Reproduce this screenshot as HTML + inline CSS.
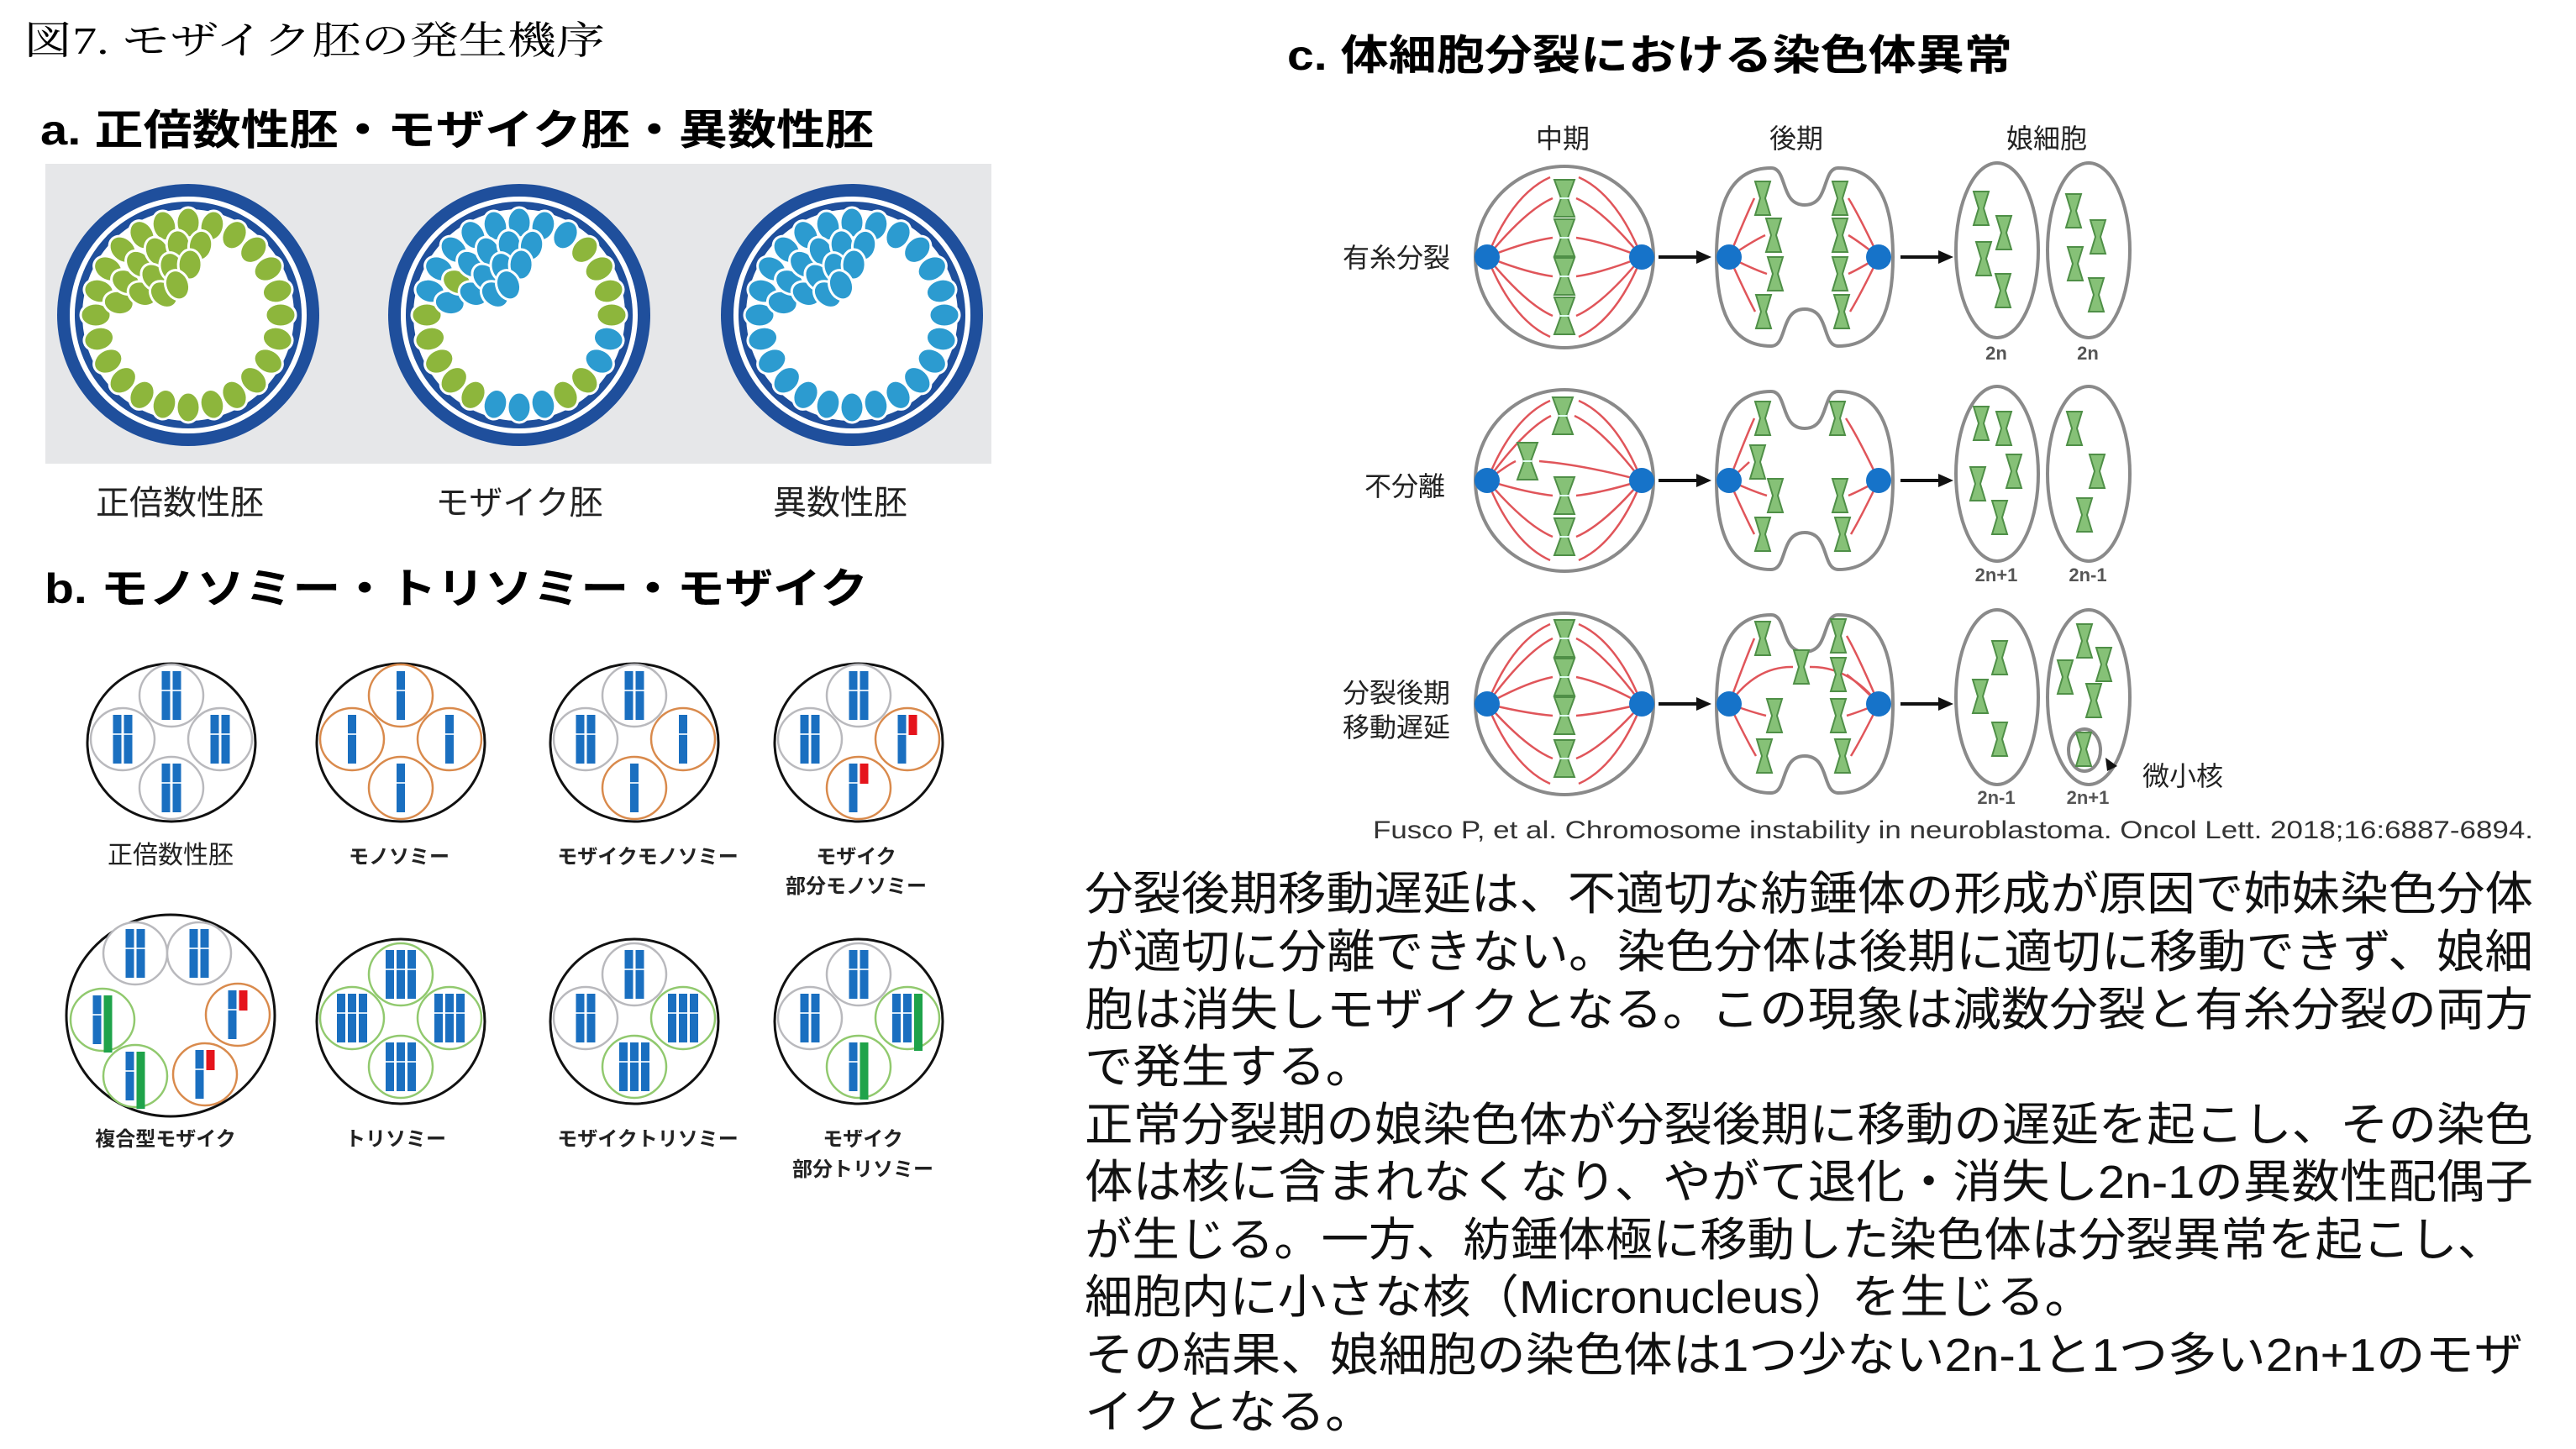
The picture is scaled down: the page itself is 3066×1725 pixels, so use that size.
<!DOCTYPE html>
<html><head><meta charset="utf-8"><style>
html,body{margin:0;padding:0;background:#fff;}
svg{display:block;}
.s{font-family:"Liberation Sans","Noto Sans CJK JP",sans-serif;}
.m{font-family:"Liberation Serif","Noto Serif CJK SC",serif;}
</style></head><body>
<svg id="S" xmlns="http://www.w3.org/2000/svg" width="3066" height="1725" viewBox="0 0 3066 1725">
<defs>
<g id="chr"><path d="M-12,-22 L12,-22 L4,0 L12,22 L-12,22 L-4,0 Z" fill="#86c177" stroke="#4f8f47" stroke-width="2"/><line x1="-5" y1="0" x2="5" y2="0" stroke="#dfe" stroke-width="2"/></g>
<g id="chs"><path d="M-9,-20 L9,-20 L3,0 L9,20 L-9,20 L-3,0 Z" fill="#86c177" stroke="#4f8f47" stroke-width="2"/></g>
<path id="ana" d="M-40,-106 C-20,-106 -30,-62 0,-62 C30,-62 20,-106 40,-106 C90,-106 105,-60 105,0 C105,60 90,106 40,106 C20,106 30,62 0,62 C-30,62 -20,106 -40,106 C-90,106 -105,60 -105,0 C-105,-60 -90,-106 -40,-106 Z" fill="#fff" stroke="#8a8a8a" stroke-width="4"/>
</defs>

<text class="m" x="28" y="64" font-size="46" textLength="692" lengthAdjust="spacingAndGlyphs">図7. モザイク胚の発生機序</text>
<text class="s" x="48" y="172" font-size="50" font-weight="bold" textLength="992" lengthAdjust="spacingAndGlyphs">a. 正倍数性胚・モザイク胚・異数性胚</text>
<text class="s" x="53" y="718" font-size="50" font-weight="bold" textLength="980" lengthAdjust="spacingAndGlyphs">b. モノソミー・トリソミー・モザイク</text>
<text class="s" x="1532" y="83" font-size="50" font-weight="bold" textLength="863" lengthAdjust="spacingAndGlyphs">c. 体細胞分裂における染色体異常</text>

<rect x="54" y="195" width="1126" height="357" fill="#e6e7e9"/>
<g id="emb"></g>
<g class="s" font-size="40" text-anchor="middle" fill="#222">
<text x="214" y="612">正倍数性胚</text><text x="618" y="612">モザイク胚</text><text x="1000" y="612">異数性胚</text>
</g>

<g id="bsec"></g>
<g class="s" text-anchor="middle" fill="#222">
<text x="203" y="1028" font-size="30">正倍数性胚</text>
<g font-size="24" font-weight="bold">
<text x="475" y="1028">モノソミー</text>
<text x="771" y="1028">モザイクモノソミー</text>
<text x="1019" y="1028">モザイク</text><text x="1019" y="1063">部分モノソミー</text>
<text x="197" y="1364">複合型モザイク</text>
<text x="471" y="1364">トリソミー</text>
<text x="771" y="1364">モザイクトリソミー</text>
<text x="1027" y="1364">モザイク</text><text x="1027" y="1400">部分トリソミー</text>
</g></g>

<g class="s" font-size="32" text-anchor="middle" fill="#222">
<text x="1860" y="176">中期</text><text x="2138" y="176">後期</text><text x="2436" y="176">娘細胞</text>
</g>
<g class="s" font-size="32" fill="#222">
<text x="1598" y="318">有糸分裂</text>
<text x="1624" y="590">不分離</text>
<text x="1598" y="836">分裂後期</text>
<text x="1598" y="877">移動遅延</text>
<text x="2550" y="935">微小核</text>
</g>
<g id="csec"></g>
<g class="s" font-size="22" font-weight="bold" text-anchor="middle" fill="#555">
<text x="2376" y="428">2n</text><text x="2485" y="428">2n</text>
<text x="2376" y="692">2n+1</text><text x="2485" y="692">2n-1</text>
<text x="2376" y="957">2n-1</text><text x="2485" y="957">2n+1</text>
</g>
<text class="s" x="1634" y="998" font-size="30" fill="#333" textLength="1381" lengthAdjust="spacingAndGlyphs">Fusco P, et al. Chromosome instability in neuroblastoma. Oncol Lett. 2018;16:6887-6894.</text>

<g class="s" font-size="55" fill="#111">
<text x="1291" y="1083" textLength="1724" lengthAdjust="spacingAndGlyphs">分裂後期移動遅延は、不適切な紡錘体の形成が原因で姉妹染色分体</text>
<text x="1291" y="1152" textLength="1724" lengthAdjust="spacingAndGlyphs">が適切に分離できない。染色分体は後期に適切に移動できず、娘細</text>
<text x="1291" y="1221" textLength="1724" lengthAdjust="spacingAndGlyphs">胞は消失しモザイクとなる。この現象は減数分裂と有糸分裂の両方</text>
<text x="1291" y="1289" textLength="344" lengthAdjust="spacingAndGlyphs">で発生する。</text>
<text x="1291" y="1358" textLength="1724" lengthAdjust="spacingAndGlyphs">正常分裂期の娘染色体が分裂後期に移動の遅延を起こし、その染色</text>
<text x="1291" y="1426" textLength="1724" lengthAdjust="spacingAndGlyphs">体は核に含まれなくなり、やがて退化・消失し2n-1の異数性配偶子</text>
<text x="1291" y="1495" textLength="1690" lengthAdjust="spacingAndGlyphs">が生じる。一方、紡錘体極に移動した染色体は分裂異常を起こし、</text>
<text x="1291" y="1563" textLength="1200" lengthAdjust="spacingAndGlyphs">細胞内に小さな核（Micronucleus）を生じる。</text>
<text x="1291" y="1632" textLength="1712" lengthAdjust="spacingAndGlyphs">その結果、娘細胞の染色体は1つ少ない2n-1と1つ多い2n+1のモザ</text>
<text x="1291" y="1700" textLength="344" lengthAdjust="spacingAndGlyphs">イクとなる。</text>
</g>
</svg>
<script>
var NS="http://www.w3.org/2000/svg";
function el(p,t,a){var e=document.createElementNS(NS,t);for(var k in a)e.setAttribute(k,a[k]);p.appendChild(e);return e;}
var G="#8db63c",B="#2c9bd0",D="#1f4f9c";
var emb=document.getElementById("emb");
[[224,0],[618,1],[1014,2]].forEach(function(q){
 var cx=q[0],cy=375,t=q[1];
 el(emb,"circle",{cx:cx,cy:cy,r:156,fill:D});
 el(emb,"circle",{cx:cx,cy:cy,r:141,fill:"#fff"});
 el(emb,"circle",{cx:cx,cy:cy,r:135,fill:D});
 el(emb,"circle",{cx:cx,cy:cy,r:126,fill:"#fff"});
 function col(i,ang,layer){
  if(t==0)return G; if(t==2)return B;
  var a=((ang%360)+360)%360;
  if(layer==1&&i==1)return G;
  if(layer>0)return B;
  if(a>=315&&a<=360)return G;
  if(a>=0&&a<15)return G;
  if(a>=15&&a<45)return B;
  if(a>=45&&a<75)return G;
  if(a>=75&&a<110)return B;
  if(a>=110&&a<195)return G;
  return B;
 }
 var n=24;
 for(var i=0;i<n;i++){
  var ang=i*360/n-90;var r=ang*Math.PI/180;
  var x=cx+110*Math.cos(r),y=cy+110*Math.sin(r);
  el(emb,"ellipse",{cx:x,cy:y,rx:14,ry:18,fill:col(i,ang,0),stroke:"#fff","stroke-width":3,transform:"rotate("+(ang-90)+" "+x+" "+y+")"});
 }
 var L=[[84,[190,208,226,244,262,280]],[60,[205,228,251,272]],[38,[220,250]]];
 L.forEach(function(l,li){l[1].forEach(function(ang,i){var r=ang*Math.PI/180;var x=cx+l[0]*Math.cos(r),y=cy+l[0]*Math.sin(r);
  el(emb,"ellipse",{cx:x,cy:y,rx:14,ry:18,fill:col(i,ang,li+1),stroke:"#fff","stroke-width":3,transform:"rotate("+(ang-90)+" "+x+" "+y+")"});});});
});
var bs=document.getElementById("bsec");
var CG="#b9b9bd",CO="#d98a4c",CGr="#91c96e",BL="#1a6fc0",RD="#e5141c",GR="#1fa34a";
function bars(cx,cy,n,extra){
 var w=10,g=3,tot=n*w+(n-1)*g+(extra?g+w:0),x0=cx-tot/2,top=cy-29;
 for(var i=0;i<n;i++){var x=x0+i*(w+g);el(bs,"rect",{x:x,y:top,width:w,height:58,fill:BL});el(bs,"rect",{x:x,y:top+22,width:w,height:2,fill:"#cfe3f5"});}
 if(extra=="r")el(bs,"rect",{x:x0+n*(w+g),y:top,width:w,height:24,fill:RD});
 if(extra=="g")el(bs,"rect",{x:x0+n*(w+g),y:top,width:w,height:68,fill:GR});
}
function sub(cx,cy,c,n,ex){el(bs,"ellipse",{cx:cx,cy:cy,rx:38,ry:37,fill:"#fff",stroke:c,"stroke-width":2.5});bars(cx,cy,n,ex);}
function four(cx,cy,spec,rx,ry){
 el(bs,"ellipse",{cx:cx,cy:cy,rx:100,ry:ry||94,fill:"#fff",stroke:"#111","stroke-width":3});
 var off=[[0,-56],[-58,-4],[58,-4],[0,54]];
 spec.forEach(function(s,i){sub(cx+off[i][0],cy+off[i][1],s[0],s[1],s[2]);});
}
var N=[CG,2],M=[CO,1],T=[CGr,3];
four(204,884,[N,N,N,N]);
four(477,884,[M,M,M,M]);
four(755,884,[N,N,M,M]);
four(1022,884,[N,N,[CO,1,"r"],[CO,1,"r"]]);
four(477,1216,[T,T,T,T],100,98);
four(755,1216,[N,N,T,T],100,98);
four(1022,1216,[N,N,[CGr,2,"g"],[CGr,1,"g"]],100,98);
el(bs,"ellipse",{cx:203,cy:1209,rx:124,ry:120,fill:"#fff",stroke:"#111","stroke-width":3});
sub(161,1135,CG,2);sub(237,1135,CG,2);sub(122,1214,CGr,1,"g");sub(283,1208,CO,1,"r");sub(161,1281,CGr,1,"g");sub(244,1279,CO,1,"r");
var cs=document.getElementById("csec");
var ys=[306,572,838];
var chromMeta=[[[1862,-70],[1862,-23],[1862,23],[1862,70]],[[1860,-77],[1818,-23],[1862,18],[1862,67]],[[1862,-78],[1862,-32],[1862,14],[1862,65]]];
var chromAna=[[[2098,-70],[2111,-26],[2113,20],[2099,65],[2190,-70],[2190,-26],[2190,20],[2192,65]],
 [[2098,-74],[2092,-22],[2113,18],[2098,64],[2187,-74],[2190,18],[2193,64]],
 [[2098,-78],[2112,14],[2100,62],[2144,-44],[2188,-81],[2188,-35],[2188,14],[2193,62]]];
var chromD=[[[2358,-58],[2385,-29],[2361,2],[2384,40],[2468,-55],[2497,-24],[2470,8],[2495,45]],
 [[2358,-68],[2385,-62],[2354,4],[2397,-11],[2380,44],[2469,-62],[2496,-11],[2481,41]],
 [[2380,-55],[2357,-9],[2380,42],[2481,-75],[2504,-47],[2458,-32],[2492,-4],[2480,54]]];
ys.forEach(function(cy,r){
 el(cs,"ellipse",{cx:1862,cy:cy,rx:106,ry:108,fill:"#fff",stroke:"#8a8a8a","stroke-width":4});
 var lp=1770,rp=1954;
 chromMeta[r].forEach(function(c){
  var y=cy+c[1];
  el(cs,"path",{d:"M"+lp+","+cy+" Q"+((lp+c[0])/2)+","+(y+(cy-y)*0.2)+" "+(c[0]-14)+","+y,fill:"none",stroke:"#e0555a","stroke-width":2.5});
  el(cs,"path",{d:"M"+rp+","+cy+" Q"+((rp+c[0])/2)+","+(y+(cy-y)*0.2)+" "+(c[0]+14)+","+y,fill:"none",stroke:"#e0555a","stroke-width":2.5});
 });
 [-1,1].forEach(function(s){
  el(cs,"path",{d:"M"+lp+","+cy+" Q1800,"+(cy+s*75)+" 1845,"+(cy+s*95),fill:"none",stroke:"#e0555a","stroke-width":2.5});
  el(cs,"path",{d:"M"+rp+","+cy+" Q1924,"+(cy+s*75)+" 1879,"+(cy+s*95),fill:"none",stroke:"#e0555a","stroke-width":2.5});
 });
 chromMeta[r].forEach(function(c){el(cs,"use",{href:"#chr",x:c[0],y:cy+c[1]});});
 el(cs,"circle",{cx:lp,cy:cy,r:15,fill:"#1673c9"});el(cs,"circle",{cx:rp,cy:cy,r:15,fill:"#1673c9"});
 el(cs,"line",{x1:1974,y1:cy,x2:2022,y2:cy,stroke:"#111","stroke-width":4});
 el(cs,"path",{d:"M2037,"+cy+" L2019,"+(cy-8)+" L2019,"+(cy+8)+" Z",fill:"#111"});
 el(cs,"use",{href:"#ana",x:2148,y:cy});
 var al=2058,ar=2236;
 chromAna[r].forEach(function(c){var y=cy+c[1];var p=c[0]<2148?al:ar;var sx=c[0]<2148?-10:10;
  if(r==2&&c[0]==2144){el(cs,"path",{d:"M"+al+","+cy+" Q2090,"+(cy-45)+" 2134,"+y,fill:"none",stroke:"#e0555a","stroke-width":2.5});el(cs,"path",{d:"M"+ar+","+cy+" Q2200,"+(cy-45)+" 2154,"+y,fill:"none",stroke:"#e0555a","stroke-width":2.5});return;}
  el(cs,"path",{d:"M"+p+","+cy+" Q"+((p+c[0])/2)+","+(y+(cy-y)*0.3)+" "+(c[0]+sx)+","+y,fill:"none",stroke:"#e0555a","stroke-width":2.5});});
 chromAna[r].forEach(function(c){el(cs,"use",{href:"#chs",x:c[0],y:cy+c[1]});});
 el(cs,"circle",{cx:al,cy:cy,r:15,fill:"#1673c9"});el(cs,"circle",{cx:ar,cy:cy,r:15,fill:"#1673c9"});
 el(cs,"line",{x1:2262,y1:cy,x2:2310,y2:cy,stroke:"#111","stroke-width":4});
 el(cs,"path",{d:"M2325,"+cy+" L2307,"+(cy-8)+" L2307,"+(cy+8)+" Z",fill:"#111"});
 el(cs,"ellipse",{cx:2377,cy:cy-8,rx:49,ry:104,fill:"#fff",stroke:"#8a8a8a","stroke-width":4});
 el(cs,"ellipse",{cx:2486,cy:cy-8,rx:49,ry:104,fill:"#fff",stroke:"#8a8a8a","stroke-width":4});
 if(r==2)el(cs,"ellipse",{cx:2481,cy:893,rx:19,ry:25,fill:"none",stroke:"#8a8a8a","stroke-width":4});
 chromD[r].forEach(function(c){el(cs,"use",{href:"#chs",x:c[0],y:cy+c[1]});});
});
el(cs,"path",{d:"M2520,912 L2506,902 L2508,918 Z",fill:"#111"});
</script>
</body></html>
